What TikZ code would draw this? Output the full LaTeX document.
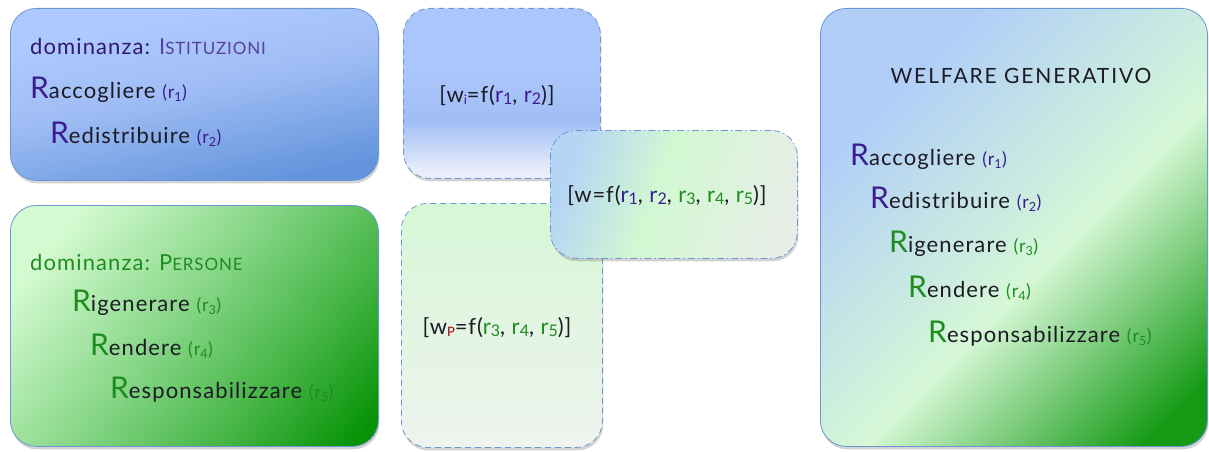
\documentclass[tikz,border=0pt]{standalone}
\usepackage{fontspec}
\setmainfont{Lato}
\usetikzlibrary{shadows}
\definecolor{lineBlue}{HTML}{6A97D3}
\definecolor{indigoR}{HTML}{3B1D8F}
\definecolor{greenR}{HTML}{1E8C1E}
\definecolor{textDark}{HTML}{1C1A24}
%% colours of the shadings
\definecolor{istLight}{HTML}{ADC9FF}
\definecolor{istMid}{HTML}{A0BEF5}
\definecolor{istDark}{HTML}{6394DC}
\definecolor{perLight}{HTML}{D3FAD0}
\definecolor{perMid}{HTML}{8AD88A}
\definecolor{perGreen}{HTML}{44B444}
\definecolor{perDark}{HTML}{079307}
\definecolor{genBlue}{HTML}{B0CEF8}
\definecolor{genPale}{HTML}{D6F8D6}
\definecolor{genGreen}{HTML}{159A15}
\definecolor{wiBlue}{HTML}{ABC6FB}
\definecolor{wiPale}{HTML}{EAEEFA}
\definecolor{wBlue}{HTML}{B5D5F4}
\definecolor{wPale}{HTML}{D2F8D2}
\definecolor{wGrey}{HTML}{E6EEE6}
\pgfdeclareverticalshading{istShade}{100bp}{color(0bp)=(istDark); color(25bp)=(istDark);
  color(52bp)=(istMid); color(70bp)=(istLight); color(100bp)=(istLight)}
\pgfdeclarehorizontalshading{perShade}{100bp}{color(0bp)=(perLight); color(24bp)=(perLight);
  color(46bp)=(perMid); color(66bp)=(perGreen); color(82bp)=(perDark); color(100bp)=(perDark)}
\pgfdeclareverticalshading{wiShade}{100bp}{color(0bp)=(wiPale); color(27bp)=(wiPale);
  color(42bp)=(istMid); color(56bp)=(wiBlue); color(100bp)=(wiBlue)}
\pgfdeclarehorizontalshading{wShade}{100bp}{color(0bp)=(wBlue); color(25bp)=(wBlue);
  color(46bp)=(wPale); color(75bp)=(wGrey); color(100bp)=(wGrey)}
\pgfdeclarehorizontalshading{genShade}{100bp}{color(0bp)=(genBlue); color(28bp)=(genBlue);
  color(56bp)=(genPale); color(80bp)=(genGreen); color(100bp)=(genGreen)}
\newcommand{\bigR}[1]{{\color{#1}\fontsize{30}{30}\selectfont R}}
\newcommand{\rIdx}[2]{{\color{#1}\fontsize{18}{18}\selectfont(r\textsubscript{#2})}}
\newcommand{\rLine}[3]{%%
  \bigR{#1}{\color{textDark}#2} \rIdx{#1}{#3}%%
}
\newcommand{\rr}[2]{{\color{#1}r\raisebox{-2pt}{\fontsize{16}{16}\selectfont #2}}}

\begin{document}
\begin{tikzpicture}[x=1pt,y=-1pt,%%
  boxStyle/.style={rounded corners=26pt,draw=lineBlue,line width=0.8pt,
    anchor=north west,inner sep=0pt,
    drop shadow={opacity=0.35,shadow xshift=1pt,shadow yshift=-3pt}},%%
  dashStyle/.style={boxStyle,dash pattern=on 6pt off 4pt},%%
  dotDashStyle/.style={boxStyle,dash pattern=on 7pt off 3pt on 1.5pt off 3pt},%%
  textStyle/.style={anchor=base west,inner sep=0pt,
    font=\fontsize{22}{22}\selectfont\addfontfeatures{LetterSpace=5}},%%
  formulaStyle/.style={inner sep=0pt,text=textDark,
    font=\fontsize{22}{22}\selectfont\addfontfeatures{LetterSpace=4}}
]
\useasboundingbox (0,0) rectangle (1209,452);
%%
%% The two boxes on the left.
\node[boxStyle,minimum width=368pt,minimum height=172pt,
  shading=istShade,shading angle=12] (ist) at (10,8) {};
\node[boxStyle,minimum width=368pt,minimum height=241pt,
  shading=perShade,shading angle=-40] (per) at (10,205) {};
%%
%% The dashed boxes in the middle.
\node[dashStyle,minimum width=197pt,minimum height=170pt,
  shading=wiShade] (wiBox) at (403,8) {};
\node[dashStyle,minimum width=201pt,minimum height=244pt,
  top color={rgb,255:red,214;green,247;blue,214},
  bottom color={rgb,255:red,238;green,243;blue,238}]
  (wpBox) at (401,203) {};
\node[dotDashStyle,minimum width=247pt,minimum height=128pt,
  shading=wShade,shading angle=-20] (wBox) at (550,130) {};
%%
%% The big box on the right.
\node[boxStyle,minimum width=387pt,minimum height=438pt,
  shading=genShade,shading angle=-45] (gen) at (820,8) {};
%%
%% Texts of the institutions.
\node[textStyle] (istHead) at (30,55) {{\color{indigoR!80!black}dominanza:}
  {\color{indigoR!85!white}I{\fontsize{17}{17}\selectfont STITUZIONI}}};
\node[textStyle] (istA) at (30,98) {\rLine{indigoR}{accogliere}{1}};
\node[textStyle] (istB) at (50,143) {\rLine{indigoR}{edistribuire}{2}};
%%
%% Texts of the persons.
\node[textStyle] (perHead) at (30,270) {\color{greenR}dominanza:
  P{\fontsize{17}{17}\selectfont ERSONE}};
\node[textStyle] (perA) at (72,311) {\rLine{greenR}{igenerare}{3}};
\node[textStyle] (perB) at (90,355) {\rLine{greenR}{endere}{4}};
\node[textStyle] (perC) at (110,398) {\rLine{greenR}{esponsabilizzare}{5}};
%%
%% The functions.
\node[formulaStyle] (wi) at (497,96) {[w\raisebox{-2pt}{\fontsize{13}{13}\selectfont\color{indigoR}i}=f(\rr{indigoR}{1}, \rr{indigoR}{2})]};
\node[formulaStyle] (wp) at (497,328) {[w\raisebox{-2pt}{\fontsize{13}{13}\selectfont\color{red!60!black}P}=f(\rr{greenR}{3}, \rr{greenR}{4}, \rr{greenR}{5})]};
\node[formulaStyle] (w) at (667,196) {[w=f(\rr{indigoR}{1}, \rr{indigoR}{2}, \rr{greenR}{3}, \rr{greenR}{4}, \rr{greenR}{5})]};
%%
%% Texts of the generative welfare.
\node[inner sep=0pt,text=textDark,font=\fontsize{21}{21}\selectfont\addfontfeatures{LetterSpace=9}]
  (genHead) at (1021,76) {WELFARE GENERATIVO};
\node[textStyle] (genA) at (850,165) {\rLine{indigoR}{accogliere}{1}};
\node[textStyle] (genB) at (870,208) {\rLine{indigoR}{edistribuire}{2}};
\node[textStyle] (genC) at (889,252) {\rLine{greenR}{igenerare}{3}};
\node[textStyle] (genD) at (908,297) {\rLine{greenR}{endere}{4}};
\node[textStyle] (genE) at (928,342) {\rLine{greenR}{esponsabilizzare}{5}};
\end{tikzpicture}
\end{document}
